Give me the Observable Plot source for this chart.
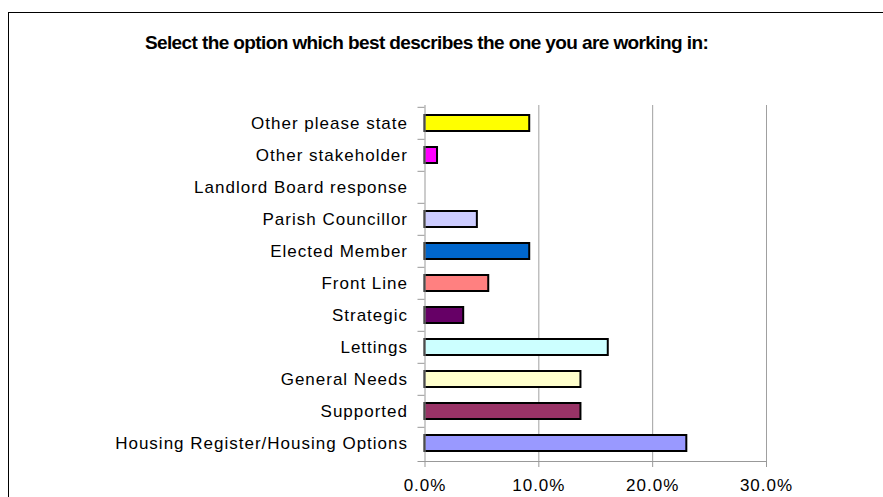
<!DOCTYPE html>
<html><head><meta charset="utf-8">
<script src="https://cdn.jsdelivr.net/npm/d3@7"></script>
<script src="https://cdn.jsdelivr.net/npm/@observablehq/plot@0.6"></script>
<style>
body{margin:0;background:#fff;}
#wrap{position:relative;width:883px;height:497px;overflow:hidden;font-family:"Liberation Sans",Arial,sans-serif;}
#frame{position:absolute;left:8px;top:12px;width:2000px;height:2000px;border-left:1px solid #000;border-top:1px solid #000;}
#title{position:absolute;left:0;top:33px;width:853px;text-align:center;font-weight:bold;font-size:19px;line-height:19px;letter-spacing:-0.6px;color:#000;white-space:nowrap;}
#chart{position:absolute;left:0;top:0;}
</style></head><body>
<div id="wrap"><div id="frame"></div><div id="title">Select the option which best describes the one you are working in:</div><div id="chart"></div></div>
<script>
// Categories listed top to bottom as drawn
const categories = [
  "Other please state",
  "Other stakeholder",
  "Landlord Board response",
  "Parish Councillor",
  "Elected Member",
  "Front Line",
  "Strategic",
  "Lettings",
  "General Needs",
  "Supported",
  "Housing Register/Housing Options"
];
const values = [0.092, 0.011, 0.0, 0.046, 0.092, 0.056, 0.034, 0.161, 0.137, 0.137, 0.230];
const colors = ["#FFFF00", "#FF00FF", "#FFFFFF", "#CCCCFF", "#0066CC", "#FF8080", "#660066", "#CCFFFF", "#FFFFCC", "#993366", "#9999FF"];
const xTicks = [0, 0.1, 0.2, 0.3];

const data = categories.map((c, i) => ({category: c, value: values[i], color: colors[i]}));

const W = 883, H = 497;
const mL = 424.5, mR = 117, mT = 105, mB = 36;
const step = (H - mT - mB) / categories.length;

const plot = Plot.plot({
  width: W, height: H,
  marginLeft: mL, marginRight: mR, marginTop: mT, marginBottom: mB,
  style: {fontFamily: "'Liberation Sans', Arial, sans-serif", fontSize: "17px", color: "#000", background: "transparent", overflow: "visible", letterSpacing: "1px"},
  x: {domain: [0, 0.3]},
  y: {domain: categories, paddingInner: 0.5, paddingOuter: 0.25},
  marks: [
    Plot.ruleX(xTicks.filter(t => t > 0), {stroke: "#a0a0a0", strokeOpacity: 1}),
    Plot.barX(data.filter(d => d.value > 0), {x: "value", y: "category", fill: "color", stroke: "#000", strokeWidth: 2}),
    Plot.axisX({ticks: xTicks, tickFormat: d => (d * 100).toFixed(1) + "%", tickSize: 6, tickPadding: 11, stroke: "#999", label: null}),
    Plot.axisY({tickSize: 0, tickPadding: 17, label: null}),
    Plot.axisY({tickSize: 7, tickFormat: () => "", dy: -step / 2, stroke: "#999", label: null}),
    Plot.ruleX([0], {stroke: "#999"}),
    Plot.frame({anchor: "bottom", stroke: "#999", insetLeft: -7})
  ]
});
document.getElementById("chart").appendChild(plot);
</script>
</body></html>
